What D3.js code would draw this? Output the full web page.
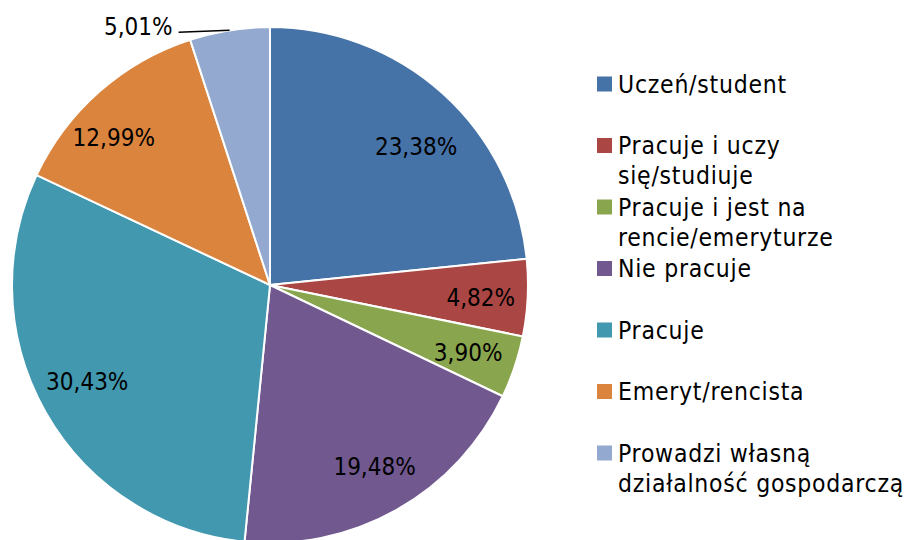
<!DOCTYPE html>
<html>
<head>
<meta charset="utf-8">
<script src="https://cdn.jsdelivr.net/npm/d3@7"></script>
<style>
  body { margin: 0; background: #fff; }
  text { font-family: "DejaVu Sans Condensed", "DejaVu Sans", sans-serif; fill: #000; }
</style>
</head>
<body>
<div id="chart"></div>
<script>
// Dane wykresu
var kategorie = [
  "Uczeń/student",
  "Pracuje i uczy się/studiuje",
  "Pracuje i jest na rencie/emeryturze",
  "Nie pracuje",
  "Pracuje",
  "Emeryt/rencista",
  "Prowadzi własną działalność gospodarczą"
];
// podział legendy na linie
var legendaLinie = [
  ["Uczeń/student"],
  ["Pracuje i uczy", "się/studiuje"],
  ["Pracuje i jest na", "rencie/emeryturze"],
  ["Nie pracuje"],
  ["Pracuje"],
  ["Emeryt/rencista"],
  ["Prowadzi własną", "działalność gospodarczą"]
];
var wartosci = [23.38, 4.82, 3.90, 19.48, 30.43, 12.99, 5.01];
var etykiety = ["23,38%", "4,82%", "3,90%", "19,48%", "30,43%", "12,99%", "5,01%"];
var kolory = ["#4572A7", "#AA4643", "#89A54E", "#71588F", "#4198AF", "#DB843D", "#93A9CF"];

var width = 908, height = 540;
var cx = 270, cy = 285, r = 258;

// drobne przesunięcia etykiet (jak w Excelu)
var przesuniecia = [[6, 17], [2, 2], [0, 1], [2, 0], [-1, -7], [-18, 9]];

var svg = d3.select("#chart").append("svg")
  .attr("width", width)
  .attr("height", height);

var color = d3.scaleOrdinal().domain(kategorie).range(kolory);

var pie = d3.pie().sort(null).value(function(d) { return d; });
var arcs = pie(wartosci);

var arc = d3.arc().innerRadius(0).outerRadius(r);
var labelArc = d3.arc().innerRadius(r * 0.81).outerRadius(r * 0.81);
var edgeArc = d3.arc().innerRadius(r).outerRadius(r);

var g = svg.append("g").attr("transform", "translate(" + cx + "," + cy + ")");

// Wycinki
g.selectAll("path.slice")
  .data(arcs)
  .enter().append("path")
  .attr("class", "slice")
  .attr("d", arc)
  .attr("fill", function(d, i) { return color(kategorie[i]); })
  .attr("stroke", "#fff")
  .attr("stroke-width", 2);

// Etykiety wewnątrz (oprócz ostatniej - mały wycinek)
g.selectAll("text.lbl")
  .data(arcs.slice(0, arcs.length - 1))
  .enter().append("text")
  .attr("class", "lbl")
  .attr("transform", function(d, i) {
    var c = labelArc.centroid(d);
    return "translate(" + (c[0] + przesuniecia[i][0]) + "," + (c[1] + przesuniecia[i][1]) + ")";
  })
  .attr("text-anchor", "middle")
  .attr("dy", "0.35em")
  .style("font-size", "24px")
  .text(function(d, i) { return etykiety[i]; });

// Etykieta 5,01% z linią odniesienia
var last = arcs[arcs.length - 1];
var p = edgeArc.centroid(last);
var lx = p[0] - 51, ly = p[1] + 2;
g.append("line")
  .attr("x1", p[0]).attr("y1", p[1])
  .attr("x2", lx).attr("y2", ly)
  .attr("stroke", "#000")
  .attr("stroke-width", 1.5);
g.append("text")
  .attr("x", lx - 6)
  .attr("y", ly - 6)
  .attr("text-anchor", "end")
  .attr("dy", "0.35em")
  .style("font-size", "24px")
  .text(etykiety[etykiety.length - 1]);

// Legenda
var legend = svg.append("g").attr("transform", "translate(597,0)");
var item = legend.selectAll("g.item")
  .data(legendaLinie)
  .enter().append("g")
  .attr("class", "item")
  .attr("transform", function(d, i) { return "translate(0," + (84 + i * 61.5) + ")"; });

item.append("rect")
  .attr("x", 0).attr("y", -7.5)
  .attr("width", 15).attr("height", 15)
  .attr("fill", function(d, i) { return color(kategorie[i]); });

item.each(function(lines) {
  var t = d3.select(this).append("text")
    .attr("x", 21)
    .style("font-size", "24.5px")
    .style("letter-spacing", "0.75px");
  t.selectAll("tspan")
    .data(lines)
    .enter().append("tspan")
    .attr("x", 21)
    .attr("y", function(d, j) { return j * 30; })
    .attr("dy", "0.35em")
    .text(function(d) { return d; });
});
</script>
</body>
</html>
